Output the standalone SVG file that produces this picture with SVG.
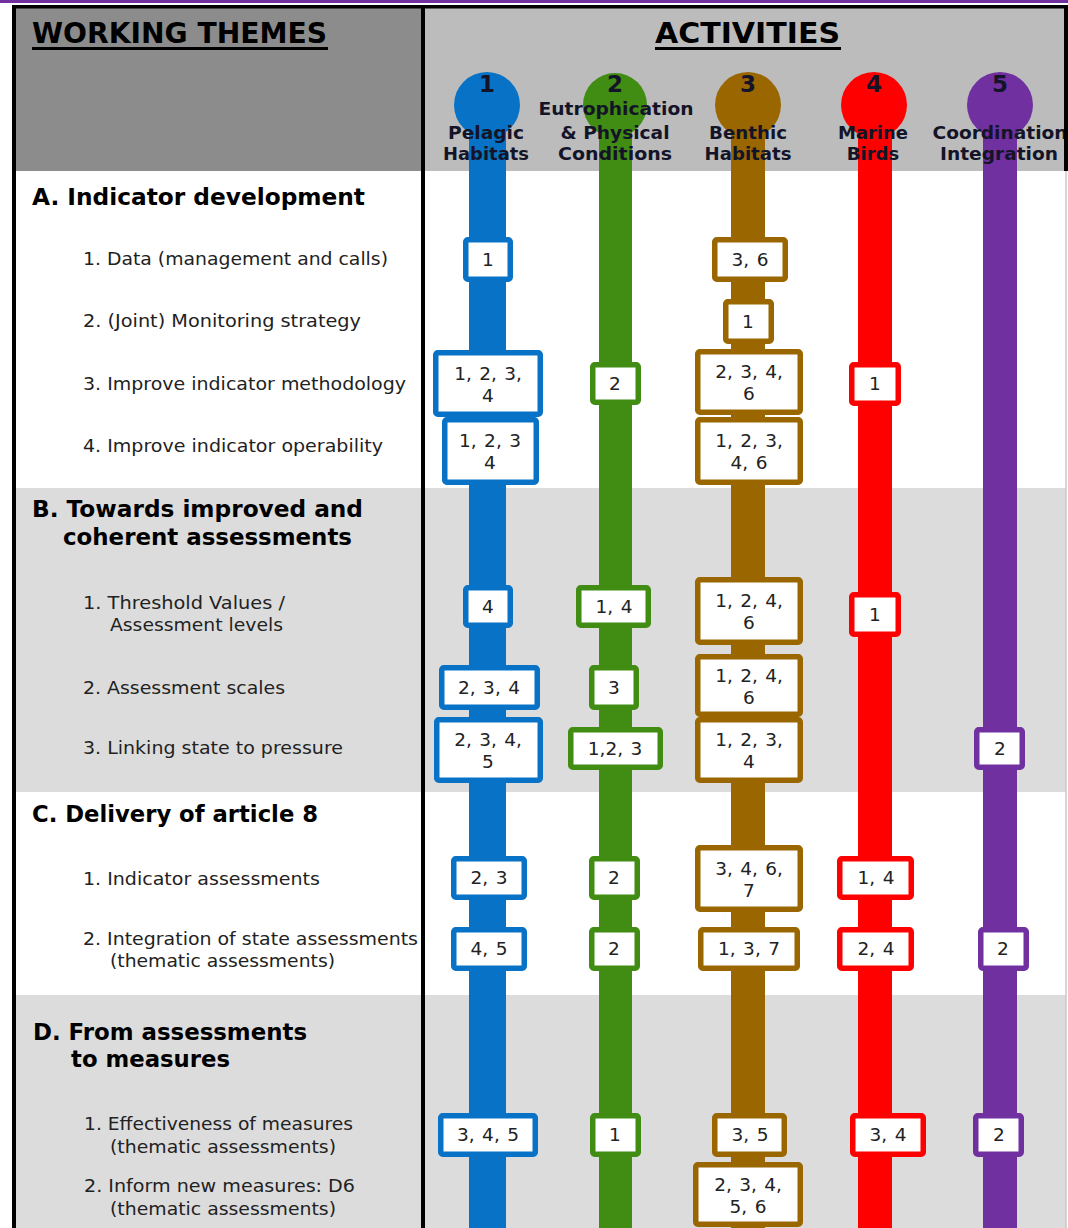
<svg xmlns="http://www.w3.org/2000/svg" width="1068" height="1228" viewBox="0 0 1068 1228">
  <style>
    .hd { font-family: "DejaVu Sans", Verdana, sans-serif; font-weight: bold; fill: #000; }
    .colnum { font-family: "DejaVu Sans", Verdana, sans-serif; font-weight: bold; font-size: 23px; fill: #141428; text-anchor: middle; }
    .collbl { font-family: "DejaVu Sans", Verdana, sans-serif; font-weight: bold; font-size: 18px; fill: #141428; text-anchor: middle; }
    .sec { font-family: "DejaVu Sans", Verdana, sans-serif; font-weight: bold; font-size: 23px; fill: #000; }
    .item { font-family: "DejaVu Sans", Verdana, sans-serif; font-size: 18px; fill: #222; }
    .bx { fill: #fff; stroke-width: 5.5; }
    .bt { font-family: "DejaVu Sans", Verdana, sans-serif; font-size: 18.5px; word-spacing: 1.5px; fill: #222; text-anchor: middle; }
    .c1 { stroke: #0872c6; } .f1 { fill: #0872c6; }
    .c2 { stroke: #418c13; } .f2 { fill: #418c13; }
    .c3 { stroke: #9a6600; } .f3 { fill: #9a6600; }
    .c4 { stroke: #ff0000; } .f4 { fill: #ff0000; }
    .c5 { stroke: #7030a0; } .f5 { fill: #7030a0; }
  </style>

  <!-- page background -->
  <rect x="0" y="0" width="1068" height="1228" fill="#fff"/>
  <rect x="0" y="0" width="1068" height="3" fill="#7030a0"/>

  <!-- header band -->
  <rect x="16" y="8" width="405" height="163" fill="#8c8c8c"/>
  <rect x="425" y="8" width="641" height="163" fill="#bcbcbc"/>

  <!-- section bands -->
  <rect x="16" y="488" width="1050" height="304" fill="#dcdcdc"/>
  <rect x="16" y="995" width="1050" height="233" fill="#dcdcdc"/>
  <line x1="1066" y1="171" x2="1066" y2="1228" stroke="#c8c8c8" stroke-width="1.5"/>

  <!-- header titles -->
  <text class="hd" x="32" y="43" font-size="28" textLength="295" lengthAdjust="spacingAndGlyphs">WORKING THEMES</text>
  <line x1="32" y1="48.5" x2="328" y2="48.5" stroke="#000" stroke-width="3"/>
  <text class="hd" x="655" y="43" font-size="28" textLength="185" lengthAdjust="spacingAndGlyphs">ACTIVITIES</text>
  <line x1="655" y1="48.5" x2="841" y2="48.5" stroke="#000" stroke-width="3"/>

  <!-- activity lanes -->
  <g id="connectors">
    <circle cx="487" cy="105" r="33" class="f1"/>
    <rect x="469" y="105" width="37" height="1123" class="f1"/>
    <circle cx="615" cy="105" r="32" class="f2"/>
    <rect x="599" y="105" width="33" height="1123" class="f2"/>
    <circle cx="748" cy="105" r="33" class="f3"/>
    <rect x="731" y="105" width="34" height="1123" class="f3"/>
    <circle cx="874" cy="105" r="33" class="f4"/>
    <rect x="858" y="105" width="34" height="1123" class="f4"/>
    <circle cx="1000" cy="105" r="33" class="f5"/>
    <rect x="983" y="105" width="34" height="1123" class="f5"/>
  </g>

  <!-- activity column labels -->
  <g id="col1">
    <text class="colnum" x="487" y="92">1</text>
    <text class="collbl" x="486" y="139" textLength="76" lengthAdjust="spacingAndGlyphs">Pelagic</text>
    <text class="collbl" x="486" y="160" textLength="86" lengthAdjust="spacingAndGlyphs">Habitats</text>
  </g>
  <g id="col2">
    <text class="colnum" x="615" y="92">2</text>
    <text class="collbl" x="616" y="115" textLength="155" lengthAdjust="spacingAndGlyphs">Eutrophication</text>
    <text class="collbl" x="615" y="139" textLength="109" lengthAdjust="spacingAndGlyphs">&amp; Physical</text>
    <text class="collbl" x="615" y="160" textLength="114" lengthAdjust="spacingAndGlyphs">Conditions</text>
  </g>
  <g id="col3">
    <text class="colnum" x="748" y="92">3</text>
    <text class="collbl" x="748" y="139" textLength="78" lengthAdjust="spacingAndGlyphs">Benthic</text>
    <text class="collbl" x="748" y="160" textLength="87" lengthAdjust="spacingAndGlyphs">Habitats</text>
  </g>
  <g id="col4">
    <text class="colnum" x="874" y="92">4</text>
    <text class="collbl" x="873" y="139" textLength="70" lengthAdjust="spacingAndGlyphs">Marine</text>
    <text class="collbl" x="873" y="160">Birds</text>
  </g>
  <g id="col5">
    <text class="colnum" x="1000" y="92">5</text>
    <text class="collbl" x="1000" y="139" textLength="135" lengthAdjust="spacingAndGlyphs">Coordination</text>
    <text class="collbl" x="999" y="160" textLength="118" lengthAdjust="spacingAndGlyphs">Integration</text>
  </g>

  <!-- working themes -->
  <g id="themeA">
    <text class="sec" x="32" y="205" textLength="333" lengthAdjust="spacingAndGlyphs">A. Indicator development</text>
    <text class="item" x="83" y="265" textLength="305" lengthAdjust="spacingAndGlyphs">1. Data (management and calls)</text>
    <text class="item" x="83" y="327" textLength="278" lengthAdjust="spacingAndGlyphs">2. (Joint) Monitoring strategy</text>
    <text class="item" x="83" y="390" textLength="323" lengthAdjust="spacingAndGlyphs">3. Improve indicator methodology</text>
    <text class="item" x="83" y="452" textLength="300" lengthAdjust="spacingAndGlyphs">4. Improve indicator operability</text>
  </g>
  <g id="themeB">
    <text class="sec" x="32" y="517" textLength="331" lengthAdjust="spacingAndGlyphs">B. Towards improved and</text>
    <text class="sec" x="63" y="545" textLength="289" lengthAdjust="spacingAndGlyphs">coherent assessments</text>
    <text class="item" x="83" y="609" textLength="202" lengthAdjust="spacingAndGlyphs">1. Threshold Values /</text>
    <text class="item" x="110" y="631" textLength="173" lengthAdjust="spacingAndGlyphs">Assessment levels</text>
    <text class="item" x="83" y="694" textLength="202" lengthAdjust="spacingAndGlyphs">2. Assessment scales</text>
    <text class="item" x="83" y="754" textLength="260" lengthAdjust="spacingAndGlyphs">3. Linking state to pressure</text>
  </g>
  <g id="themeC">
    <text class="sec" x="32" y="822" textLength="286" lengthAdjust="spacingAndGlyphs">C. Delivery of article 8</text>
    <text class="item" x="83" y="885" textLength="237" lengthAdjust="spacingAndGlyphs">1. Indicator assessments</text>
    <text class="item" x="83" y="945" textLength="335" lengthAdjust="spacingAndGlyphs">2. Integration of state assessments</text>
    <text class="item" x="110" y="967" textLength="225" lengthAdjust="spacingAndGlyphs">(thematic assessments)</text>
  </g>
  <g id="themeD">
    <text class="sec" x="33" y="1040" textLength="274" lengthAdjust="spacingAndGlyphs">D. From assessments</text>
    <text class="sec" x="71" y="1067" textLength="159" lengthAdjust="spacingAndGlyphs">to measures</text>
    <text class="item" x="84" y="1130" textLength="269" lengthAdjust="spacingAndGlyphs">1. Effectiveness of measures</text>
    <text class="item" x="110" y="1153" textLength="226" lengthAdjust="spacingAndGlyphs">(thematic assessments)</text>
    <text class="item" x="84" y="1192" textLength="271" lengthAdjust="spacingAndGlyphs">2. Inform new measures: D6</text>
    <text class="item" x="110" y="1215" textLength="226" lengthAdjust="spacingAndGlyphs">(thematic assessments)</text>
  </g>

  <!-- activity boxes: lane 1 -->
  <g id="b1-A1"><rect class="bx c1" x="465.75" y="239.75" width="44.5" height="39.5" rx="2"/><text class="bt" x="488" y="266">1</text></g>
  <g id="b1-A3"><rect class="bx c1" x="435.75" y="352.75" width="104.5" height="61.5" rx="2"/><text class="bt" x="488" y="380">1, 2, 3,</text><text class="bt" x="488" y="402">4</text></g>
  <g id="b1-A4"><rect class="bx c1" x="444.75" y="419.75" width="91.5" height="62.5" rx="2"/><text class="bt" x="490" y="447">1, 2, 3</text><text class="bt" x="490" y="469">4</text></g>
  <g id="b1-B1"><rect class="bx c1" x="465.75" y="587.75" width="44.5" height="37.5" rx="2"/><text class="bt" x="488" y="613">4</text></g>
  <g id="b1-B2"><rect class="bx c1" x="441.75" y="667.75" width="95.5" height="39.5" rx="2"/><text class="bt" x="489" y="694">2, 3, 4</text></g>
  <g id="b1-B3"><rect class="bx c1" x="436.75" y="719.75" width="103.5" height="60.5" rx="2"/><text class="bt" x="488" y="746">2, 3, 4,</text><text class="bt" x="488" y="768">5</text></g>
  <g id="b1-C1"><rect class="bx c1" x="453.75" y="858.75" width="70.5" height="38.5" rx="2"/><text class="bt" x="489" y="884">2, 3</text></g>
  <g id="b1-C2"><rect class="bx c1" x="453.75" y="929.75" width="70.5" height="38.5" rx="2"/><text class="bt" x="489" y="955">4, 5</text></g>
  <g id="b1-D1"><rect class="bx c1" x="440.75" y="1115.75" width="94.5" height="38.5" rx="2"/><text class="bt" x="488" y="1141">3, 4, 5</text></g>

  <!-- lane 2 -->
  <g id="b2-A3"><rect class="bx c2" x="592.75" y="364.75" width="45.5" height="37.5" rx="2"/><text class="bt" x="615" y="390">2</text></g>
  <g id="b2-B1"><rect class="bx c2" x="578.75" y="587.75" width="69.5" height="37.5" rx="2"/><text class="bt" x="614" y="613">1, 4</text></g>
  <g id="b2-B2"><rect class="bx c2" x="591.75" y="667.75" width="44.5" height="39.5" rx="2"/><text class="bt" x="614" y="694">3</text></g>
  <g id="b2-B3"><rect class="bx c2" x="570.75" y="729.75" width="89.5" height="37.5" rx="2"/><text class="bt" x="615" y="755">1,2, 3</text></g>
  <g id="b2-C1"><rect class="bx c2" x="591.75" y="858.75" width="45.5" height="38.5" rx="2"/><text class="bt" x="614" y="884">2</text></g>
  <g id="b2-C2"><rect class="bx c2" x="591.75" y="929.75" width="45.5" height="38.5" rx="2"/><text class="bt" x="614" y="955">2</text></g>
  <g id="b2-D1"><rect class="bx c2" x="592.75" y="1115.75" width="45.5" height="38.5" rx="2"/><text class="bt" x="615" y="1141">1</text></g>

  <!-- lane 3 -->
  <g id="b3-A1"><rect class="bx c3" x="714.75" y="239.75" width="70.5" height="39.5" rx="2"/><text class="bt" x="750" y="266">3, 6</text></g>
  <g id="b3-A2"><rect class="bx c3" x="725.75" y="301.75" width="45.5" height="39.5" rx="2"/><text class="bt" x="748" y="328">1</text></g>
  <g id="b3-A3"><rect class="bx c3" x="697.75" y="351.75" width="102.5" height="60.5" rx="2"/><text class="bt" x="749" y="378">2, 3, 4,</text><text class="bt" x="749" y="400">6</text></g>
  <g id="b3-A4"><rect class="bx c3" x="697.75" y="419.75" width="102.5" height="62.5" rx="2"/><text class="bt" x="749" y="447">1, 2, 3,</text><text class="bt" x="749" y="469">4, 6</text></g>
  <g id="b3-B1"><rect class="bx c3" x="697.75" y="579.75" width="102.5" height="62.5" rx="2"/><text class="bt" x="749" y="607">1, 2, 4,</text><text class="bt" x="749" y="629">6</text></g>
  <g id="b3-B2"><rect class="bx c3" x="697.75" y="656.75" width="102.5" height="57.5" rx="2"/><text class="bt" x="749" y="682">1, 2, 4,</text><text class="bt" x="749" y="704">6</text></g>
  <g id="b3-B3"><rect class="bx c3" x="697.75" y="719.75" width="102.5" height="60.5" rx="2"/><text class="bt" x="749" y="746">1, 2, 3,</text><text class="bt" x="749" y="768">4</text></g>
  <g id="b3-C1"><rect class="bx c3" x="697.75" y="847.75" width="102.5" height="61.5" rx="2"/><text class="bt" x="749" y="875">3, 4, 6,</text><text class="bt" x="749" y="897">7</text></g>
  <g id="b3-C2"><rect class="bx c3" x="700.75" y="929.75" width="96.5" height="38.5" rx="2"/><text class="bt" x="749" y="955">1, 3, 7</text></g>
  <g id="b3-D1"><rect class="bx c3" x="714.75" y="1115.75" width="69.5" height="38.5" rx="2"/><text class="bt" x="750" y="1141">3, 5</text></g>
  <g id="b3-D2"><rect class="bx c3" x="695.75" y="1164.75" width="104.5" height="59.5" rx="2"/><text class="bt" x="748" y="1191">2, 3, 4,</text><text class="bt" x="748" y="1213">5, 6</text></g>

  <!-- lane 4 -->
  <g id="b4-A3"><rect class="bx c4" x="851.75" y="364.75" width="46.5" height="38.5" rx="2"/><text class="bt" x="875" y="390">1</text></g>
  <g id="b4-B1"><rect class="bx c4" x="851.75" y="594.75" width="46.5" height="39.5" rx="2"/><text class="bt" x="875" y="621">1</text></g>
  <g id="b4-C1"><rect class="bx c4" x="839.75" y="858.75" width="71.5" height="38.5" rx="2"/><text class="bt" x="876" y="884">1, 4</text></g>
  <g id="b4-C2"><rect class="bx c4" x="839.75" y="929.75" width="71.5" height="38.5" rx="2"/><text class="bt" x="876" y="955">2, 4</text></g>
  <g id="b4-D1"><rect class="bx c4" x="852.75" y="1115.75" width="70.5" height="38.5" rx="2"/><text class="bt" x="888" y="1141">3, 4</text></g>

  <!-- lane 5 -->
  <g id="b5-B3"><rect class="bx c5" x="976.75" y="729.75" width="45.5" height="37.5" rx="2"/><text class="bt" x="1000" y="755">2</text></g>
  <g id="b5-C2"><rect class="bx c5" x="980.75" y="929.75" width="45.5" height="38.5" rx="2"/><text class="bt" x="1003" y="955">2</text></g>
  <g id="b5-D1"><rect class="bx c5" x="975.75" y="1115.75" width="45.5" height="38.5" rx="2"/><text class="bt" x="999" y="1141">2</text></g>

  <!-- frame lines -->
  <rect x="12" y="5" width="1056" height="3.5" fill="#000"/>
  <rect x="12" y="5" width="4" height="1223" fill="#000"/>
  <rect x="421" y="5" width="4" height="1223" fill="#000"/>
  <rect x="1064" y="5" width="4" height="166" fill="#000"/>
</svg>
